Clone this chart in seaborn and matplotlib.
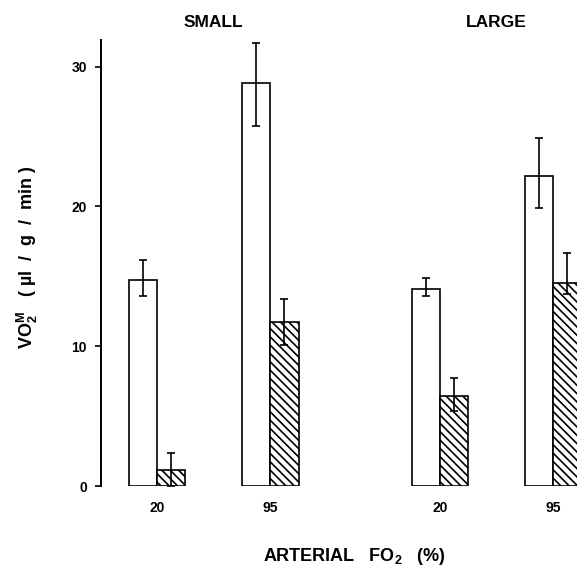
import matplotlib
matplotlib.use("Agg")
import matplotlib.pyplot as plt
import pandas as pd
import seaborn as sns

# values (VO2M, ul/g/min)
sizes = ["SMALL", "SMALL", "LARGE", "LARGE"]
fo2_labels = ["20", "95", "20", "95"]
open_mean = [14.7, 28.85, 14.1, 22.2]
open_err_lo = [1.1, 3.1, 0.5, 2.3]
open_err_hi = [1.5, 2.85, 0.75, 2.7]
hatched_mean = [1.15, 11.7, 6.45, 14.55]
hatched_err_lo = [1.15, 1.6, 1.05, 0.85]
hatched_err_hi = [1.2, 1.7, 1.25, 2.1]

# layout: group centres in bar-width units
group_pos = [0, 4, 10, 14]

sns.set_style("ticks")
plt.rcParams["font.family"] = ["Liberation Sans", "DejaVu Sans"]
plt.rcParams["font.weight"] = "bold"
plt.rcParams["text.color"] = "black"
plt.rcParams["axes.labelcolor"] = "black"
plt.rcParams["axes.edgecolor"] = "black"
plt.rcParams["xtick.color"] = "black"
plt.rcParams["ytick.color"] = "black"
plt.rcParams["mathtext.fontset"] = "custom"
plt.rcParams["mathtext.rm"] = "Liberation Sans:bold"
plt.rcParams["mathtext.bf"] = "Liberation Sans:bold"
plt.rcParams["mathtext.default"] = "bf"
plt.rcParams["hatch.linewidth"] = 1.2

df = pd.DataFrame({
    "pos": group_pos * 2,
    "cond": ["open"] * 4 + ["hatched"] * 4,
    "value": open_mean + hatched_mean,
})

fig = plt.figure(figsize=(5.77, 5.78), dpi=100)
ax = fig.add_axes([101 / 577, 92 / 578, 499 / 577, 446 / 578])

sns.barplot(
    data=df, x="pos", y="value", hue="cond", hue_order=["open", "hatched"],
    native_scale=True, width=0.5, errorbar=None, legend=False,
    palette={"open": "white", "hatched": "white"},
    edgecolor="black", linewidth=1.2, ax=ax,
)

for cont, lo, hi, mean in [(ax.containers[0], open_err_lo, open_err_hi, open_mean),
                           (ax.containers[1], hatched_err_lo, hatched_err_hi, hatched_mean)]:
    xs = [p.get_x() + p.get_width() / 2 for p in cont.patches]
    ax.errorbar(xs, mean, yerr=[lo, hi], fmt="none", ecolor="black",
                elinewidth=1.2, capsize=3, capthick=1.2, zorder=3)

for p in ax.containers[1].patches:
    p.set_hatch("\\\\\\\\")

ax.set_xlim(-1.98, 15.65)
ax.set_ylim(0, 31.9)
ax.set_yticks([0, 10, 20, 30])
ax.set_xticks(group_pos)
ax.set_xticklabels(fo2_labels, fontsize=10, fontweight="bold")
ax.tick_params(axis="x", length=0, pad=11)
ax.tick_params(axis="y", length=4, width=1.2, pad=6, labelsize=10)

sns.despine(ax=ax, bottom=True)
ax.spines["left"].set_linewidth(1.4)

# group titles above the panels
for name in ["SMALL", "LARGE"]:
    xs = [p for p, s in zip(group_pos, sizes) if s == name]
    ax.text(sum(xs) / len(xs), 1.04, name, transform=ax.get_xaxis_transform(),
            ha="center", va="center", fontsize=12.5, fontweight="bold")

ax.set_ylabel("VO$_2^M$   ( µl  /  g  /  min )", fontsize=13, fontweight="bold")
ax.yaxis.set_label_coords(-0.122, 0.513)
ax.set_xlabel("ARTERIAL   FO$_2$   (%)", fontsize=13, fontweight="bold")
ax.xaxis.set_label_coords(0.507, -0.135)

fig.savefig("out.png", dpi=100)
